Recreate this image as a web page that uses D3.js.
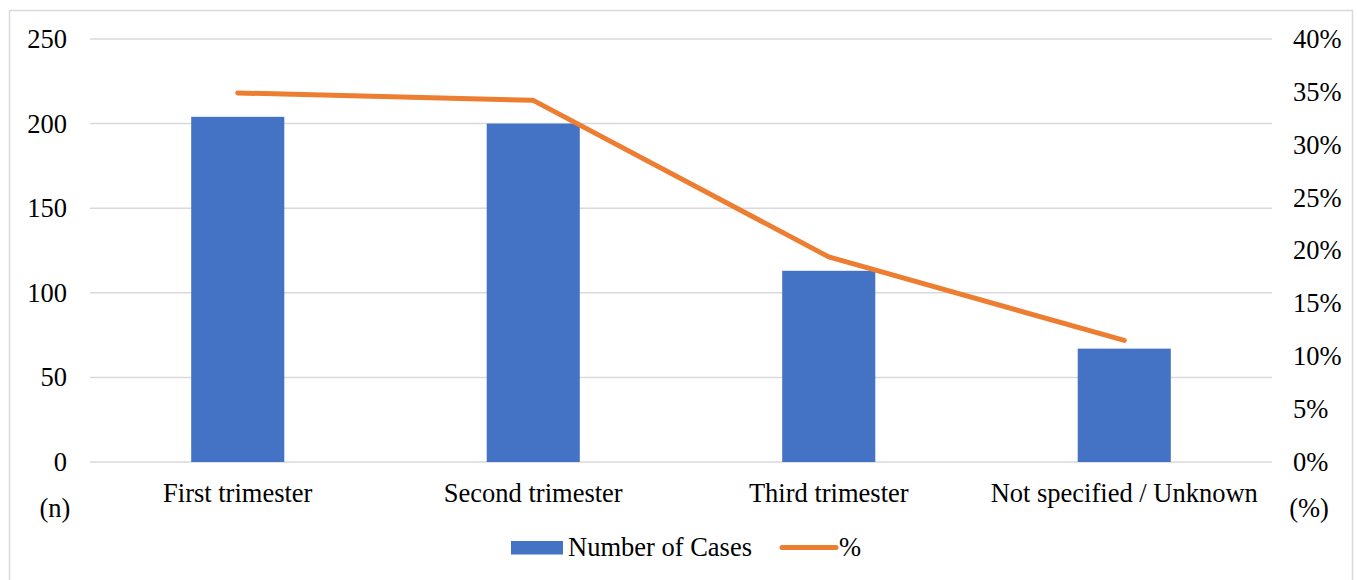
<!DOCTYPE html>
<html><head><meta charset="utf-8">
<script src="https://cdn.jsdelivr.net/npm/d3@7"></script>
<style>html,body{margin:0;padding:0;background:#fff;}svg, svg text{display:block;font-family:"Liberation Serif","Times New Roman",serif !important;}</style>
</head><body>
<script>
const categories = ["First trimester","Second trimester","Third trimester","Not specified / Unknown"];
const cases = [204, 200, 113, 67];
const percents = [34.9, 34.2, 19.4, 11.5];
const leftTicks = [0, 50, 100, 150, 200, 250];
const rightTicks = [0, 5, 10, 15, 20, 25, 30, 35, 40];

const W = 1357, H = 580;
const svg = d3.select("body").append("svg").attr("width", W).attr("height", H);
svg.append("rect").attr("x", 9.5).attr("y", 10.5).attr("width", 1343).attr("height", 600)
  .attr("fill", "#fff").attr("stroke", "#D9D9D9").attr("stroke-width", 1.5);

const x0 = 90, x1 = 1272, yTop = 39, yBot = 462;
const x = d3.scaleBand().domain(categories).range([x0, x1]).paddingInner(0).paddingOuter(0);
const yL = d3.scaleLinear().domain([0, 250]).range([yBot, yTop]);
const yR = d3.scaleLinear().domain([0, 40]).range([yBot, yTop]);
const fs = 26.5;
const serif = "'Liberation Serif', 'Times New Roman', serif";

// gridlines
svg.append("g").selectAll("line").data(leftTicks).join("line")
  .attr("x1", x0).attr("x2", x1).attr("y1", d => yL(d)).attr("y2", d => yL(d))
  .attr("stroke", "#D9D9D9").attr("stroke-width", 1.5);

// left axis labels
const gl = svg.append("g").attr("transform", `translate(${x0},0)`)
  .call(d3.axisLeft(yL).tickValues(leftTicks).tickSize(0).tickPadding(23));
gl.attr("font-family", serif).attr("font-size", fs);
gl.select(".domain").remove();
gl.selectAll("text").style("font-family", serif).style("font-size", fs + "px").attr("fill", "#000");

// right axis labels
const gr = svg.append("g").attr("transform", `translate(${x1},0)`)
  .call(d3.axisRight(yR).tickValues(rightTicks).tickSize(0).tickPadding(21).tickFormat(d => d + "%"));
gr.attr("font-family", serif).attr("font-size", fs);
gr.select(".domain").remove();
gr.selectAll("text").style("font-family", serif).style("font-size", fs + "px").attr("fill", "#000");

// bars
const bw = x.bandwidth() * 0.315;
svg.append("g").selectAll("rect").data(categories).join("rect")
  .attr("x", d => x(d) + x.bandwidth() / 2 - bw / 2)
  .attr("width", bw)
  .attr("y", (d, i) => yL(cases[i]))
  .attr("height", (d, i) => yBot - yL(cases[i]))
  .attr("fill", "#4472C4");

// line
const line = d3.line().x((d, i) => x(categories[i]) + x.bandwidth() / 2).y(d => yR(d));
svg.append("path").datum(percents).attr("d", line)
  .attr("fill", "none").attr("stroke", "#ED7D31").attr("stroke-width", 5)
  .attr("stroke-linecap", "round").attr("stroke-linejoin", "round");

// category labels
svg.append("g").selectAll("text").data(categories).join("text")
  .attr("x", d => x(d) + x.bandwidth() / 2).attr("y", 502)
  .attr("text-anchor", "middle").attr("font-size", fs).attr("fill", "#000").text(d => d);

// axis unit labels
svg.append("text").attr("x", 55).attr("y", 517).attr("text-anchor", "middle").attr("font-size", fs).text("(n)");
svg.append("text").attr("x", 1309).attr("y", 517).attr("text-anchor", "middle").attr("font-size", fs).text("(%)");

// legend
const lg = svg.append("g");
lg.append("rect").attr("x", 511).attr("y", 541).attr("width", 52).attr("height", 13.5).attr("fill", "#4472C4");
lg.append("text").attr("x", 568).attr("y", 556).attr("font-size", fs).text("Number of Cases");
lg.append("line").attr("x1", 782).attr("x2", 836).attr("y1", 547.5).attr("y2", 547.5)
  .attr("stroke", "#ED7D31").attr("stroke-width", 5).attr("stroke-linecap", "round");
lg.append("text").attr("x", 839).attr("y", 556).attr("font-size", fs).text("%");
</script>
</body></html>
